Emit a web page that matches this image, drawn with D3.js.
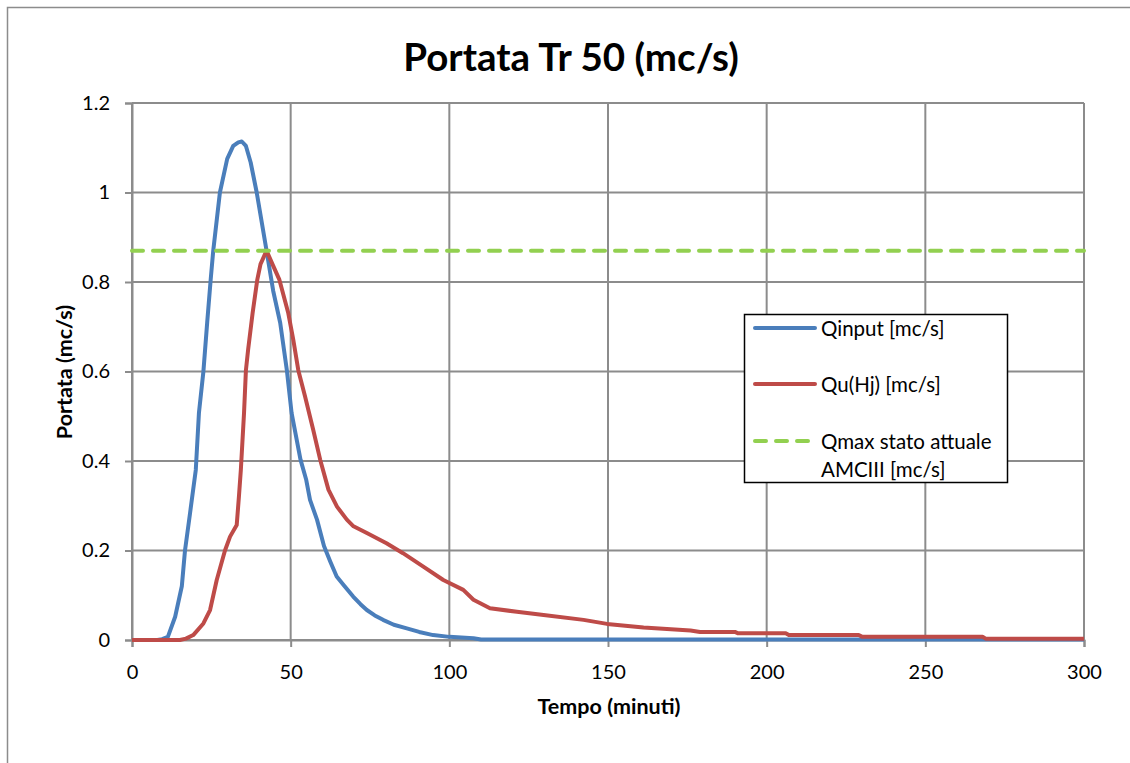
<!DOCTYPE html>
<html>
<head>
<meta charset="utf-8">
<style>
  body { margin: 0; background: #fff; }
  svg text { font-family: "Lato", "Noto Sans", sans-serif; }
</style>
</head>
<body>
<div id="chart"></div>
<script src="https://cdn.jsdelivr.net/npm/d3@7"></script>
<script>

// ***************
// Data
// ***************

var qinT = [0, 8, 9.5, 11.3, 13.6, 15.7, 16.7, 18.3, 20.1, 21.1, 22.5, 23.7, 24.8, 25.6, 27.7,
            30.0, 31.9, 33.5, 34.6, 35.9, 37.4, 39.3, 42.4, 44.5, 46.7, 48.8, 50.3, 53.1, 54.9,
            56.1, 58.3, 60.5, 62.5, 64.5, 67, 69.7, 72, 74, 76.5, 79.1, 82.5, 86.6, 90.5, 94.9,
            100, 107.6, 110, 300];
var qinV = [0, 0, 0.002, 0.007, 0.052, 0.12, 0.2, 0.284, 0.38, 0.508, 0.6, 0.71, 0.806, 0.87, 1.0,
            1.075, 1.104, 1.112, 1.114, 1.104, 1.067, 1.0, 0.87, 0.78, 0.709, 0.603, 0.507, 0.403, 0.358,
            0.313, 0.269, 0.21, 0.175, 0.142, 0.12, 0.097, 0.08, 0.067, 0.055, 0.045, 0.034, 0.026, 0.018, 0.011,
            0.007, 0.004, 0.001, 0.001];

var quT = [0, 15.1, 17, 19.3, 22.5, 24.6, 26.7, 29.3, 30.9, 33.0, 33.7, 34.3, 35.3, 35.9, 36.6,
           38.0, 39.5, 40.5, 42.4, 44.5, 46.4, 49.2, 50.8, 52.4, 54.5, 57.1, 59.3, 61.9, 64.6,
           67.7, 69.8, 74.0, 80.2, 85.4, 91.8, 98.1, 104.4, 107.6, 112.8, 121.3, 129.7, 142.3,
           149.7, 161.2, 176, 179, 190, 191, 206, 207, 229, 230, 268, 269, 300];
var quV = [0, 0, 0.003, 0.011, 0.037, 0.067, 0.134, 0.2, 0.231, 0.257, 0.321, 0.38, 0.507, 0.603, 0.649,
           0.73, 0.806, 0.84, 0.87, 0.836, 0.806, 0.732, 0.672, 0.603, 0.545, 0.47, 0.403, 0.336, 0.298,
           0.269, 0.254, 0.239, 0.216, 0.194, 0.164, 0.134, 0.112, 0.09, 0.071, 0.063, 0.056, 0.045,
           0.036, 0.028, 0.021, 0.018, 0.018, 0.015, 0.015, 0.011, 0.011, 0.0075, 0.0075, 0.003, 0.003];

var qmax = 0.87;

var xTicks = [0, 50, 100, 150, 200, 250, 300];
var yTicks = [0, 0.2, 0.4, 0.6, 0.8, 1, 1.2];

var seriesNames = ["Qinput [mc/s]", "Qu(Hj) [mc/s]", "Qmax stato attuale", "AMCIII [mc/s]"];

// ***************
// Layout
// ***************

var W = 1130, H = 763;
var mar = {l: 132, r: 46, t: 103, b: 123};
var w = W - mar.l - mar.r, h = H - mar.t - mar.b;

var svg = d3.select("#chart").append("svg")
    .attr("width", W).attr("height", H);

// outer chart border
svg.append("rect")
    .attr("x", 7.5).attr("y", 7.5)
    .attr("width", W).attr("height", H)
    .attr("fill", "none").attr("stroke", "#8c8c8c").attr("stroke-width", 1.5);

var g = svg.append("g").attr("transform", "translate(" + mar.l + "," + mar.t + ")");

var x = d3.scaleLinear().domain([0, 300]).range([0, w]);
var y = d3.scaleLinear().domain([0, 1.2]).range([h, 0]);

// gridlines
g.selectAll(".vgrid").data(xTicks).enter().append("line")
    .attr("x1", function(d) { return x(d); }).attr("x2", function(d) { return x(d); })
    .attr("y1", 0).attr("y2", h)
    .attr("stroke", "#8c8c8c").attr("stroke-width", 2);
g.selectAll(".hgrid").data(yTicks).enter().append("line")
    .attr("x1", 0).attr("x2", w)
    .attr("y1", function(d) { return y(d); }).attr("y2", function(d) { return y(d); })
    .attr("stroke", "#8c8c8c").attr("stroke-width", 2);

// axes
var xAxis = g.append("g").attr("transform", "translate(0," + h + ")")
    .call(d3.axisBottom(x).tickValues(xTicks).tickSize(7).tickPadding(18).tickFormat(d3.format("d")));
var yAxis = g.append("g")
    .call(d3.axisLeft(y).tickValues(yTicks).tickSize(7).tickPadding(15).tickFormat(function(d) { return d3.format("")(d); }));

[xAxis, yAxis].forEach(function(a) {
  a.select(".domain").attr("stroke", "#8c8c8c").attr("stroke-width", 2);
  a.selectAll(".tick line").attr("stroke", "#8c8c8c").attr("stroke-width", 2);
  a.selectAll(".tick text").attr("font-family", "Lato").attr("font-size", 20).attr("fill", "#000");
});

// series
var line = d3.line()
    .x(function(d) { return x(d[0]); })
    .y(function(d) { return y(d[1]); });

var qin = d3.zip(qinT, qinV), qu = d3.zip(quT, quV);

g.append("path").datum(qin).attr("d", line)
    .attr("fill", "none").attr("stroke", "#4a7ebb").attr("stroke-width", 4).attr("stroke-linejoin", "round");
g.append("path").datum(qu).attr("d", line)
    .attr("fill", "none").attr("stroke", "#be4b48").attr("stroke-width", 4).attr("stroke-linejoin", "round");
g.append("line")
    .attr("x1", x(0)).attr("x2", x(300))
    .attr("y1", y(qmax)).attr("y2", y(qmax))
    .attr("stroke", "#92d050").attr("stroke-width", 4)
    .attr("stroke-linecap", "round").attr("stroke-dasharray", "11,10");

// title and axis labels
svg.append("text")
    .attr("x", 571).attr("y", 71)
    .attr("text-anchor", "middle")
    .attr("font-weight", "bold").attr("font-size", 38.5)
    .text("Portata Tr 50 (mc/s)");

svg.append("text")
    .attr("x", 609).attr("y", 714)
    .attr("text-anchor", "middle")
    .attr("font-weight", "bold").attr("font-size", 21.5)
    .text("Tempo (minuti)");

svg.append("text")
    .attr("transform", "translate(72,372) rotate(-90)")
    .attr("text-anchor", "middle")
    .attr("font-weight", "bold").attr("font-size", 21.5)
    .text("Portata (mc/s)");

// legend
var leg = svg.append("g").attr("transform", "translate(744,314)");
leg.append("rect")
    .attr("x", 0.5).attr("y", 0.5).attr("width", 263).attr("height", 168)
    .attr("fill", "#fff").attr("stroke", "#000").attr("stroke-width", 1.5);

var legItems = [
  {name: seriesNames[0], color: "#4a7ebb", dash: null, ly: 14},
  {name: seriesNames[1], color: "#be4b48", dash: null, ly: 70},
  {name: seriesNames[2], color: "#92d050", dash: "11,10", ly: 127}
];
legItems.forEach(function(d) {
  leg.append("line")
      .attr("x1", 11).attr("x2", 71).attr("y1", d.ly).attr("y2", d.ly)
      .attr("stroke", d.color).attr("stroke-width", 4)
      .attr("stroke-linecap", "round")
      .attr("stroke-dasharray", d.dash);
  leg.append("text")
      .attr("x", 77).attr("y", d.ly + 8)
      .attr("font-size", 20.5)
      .text(d.name);
});
leg.append("text")
    .attr("x", 77).attr("y", 163)
    .attr("font-size", 20.5)
    .text(seriesNames[3]);

</script>
</body>
</html>
